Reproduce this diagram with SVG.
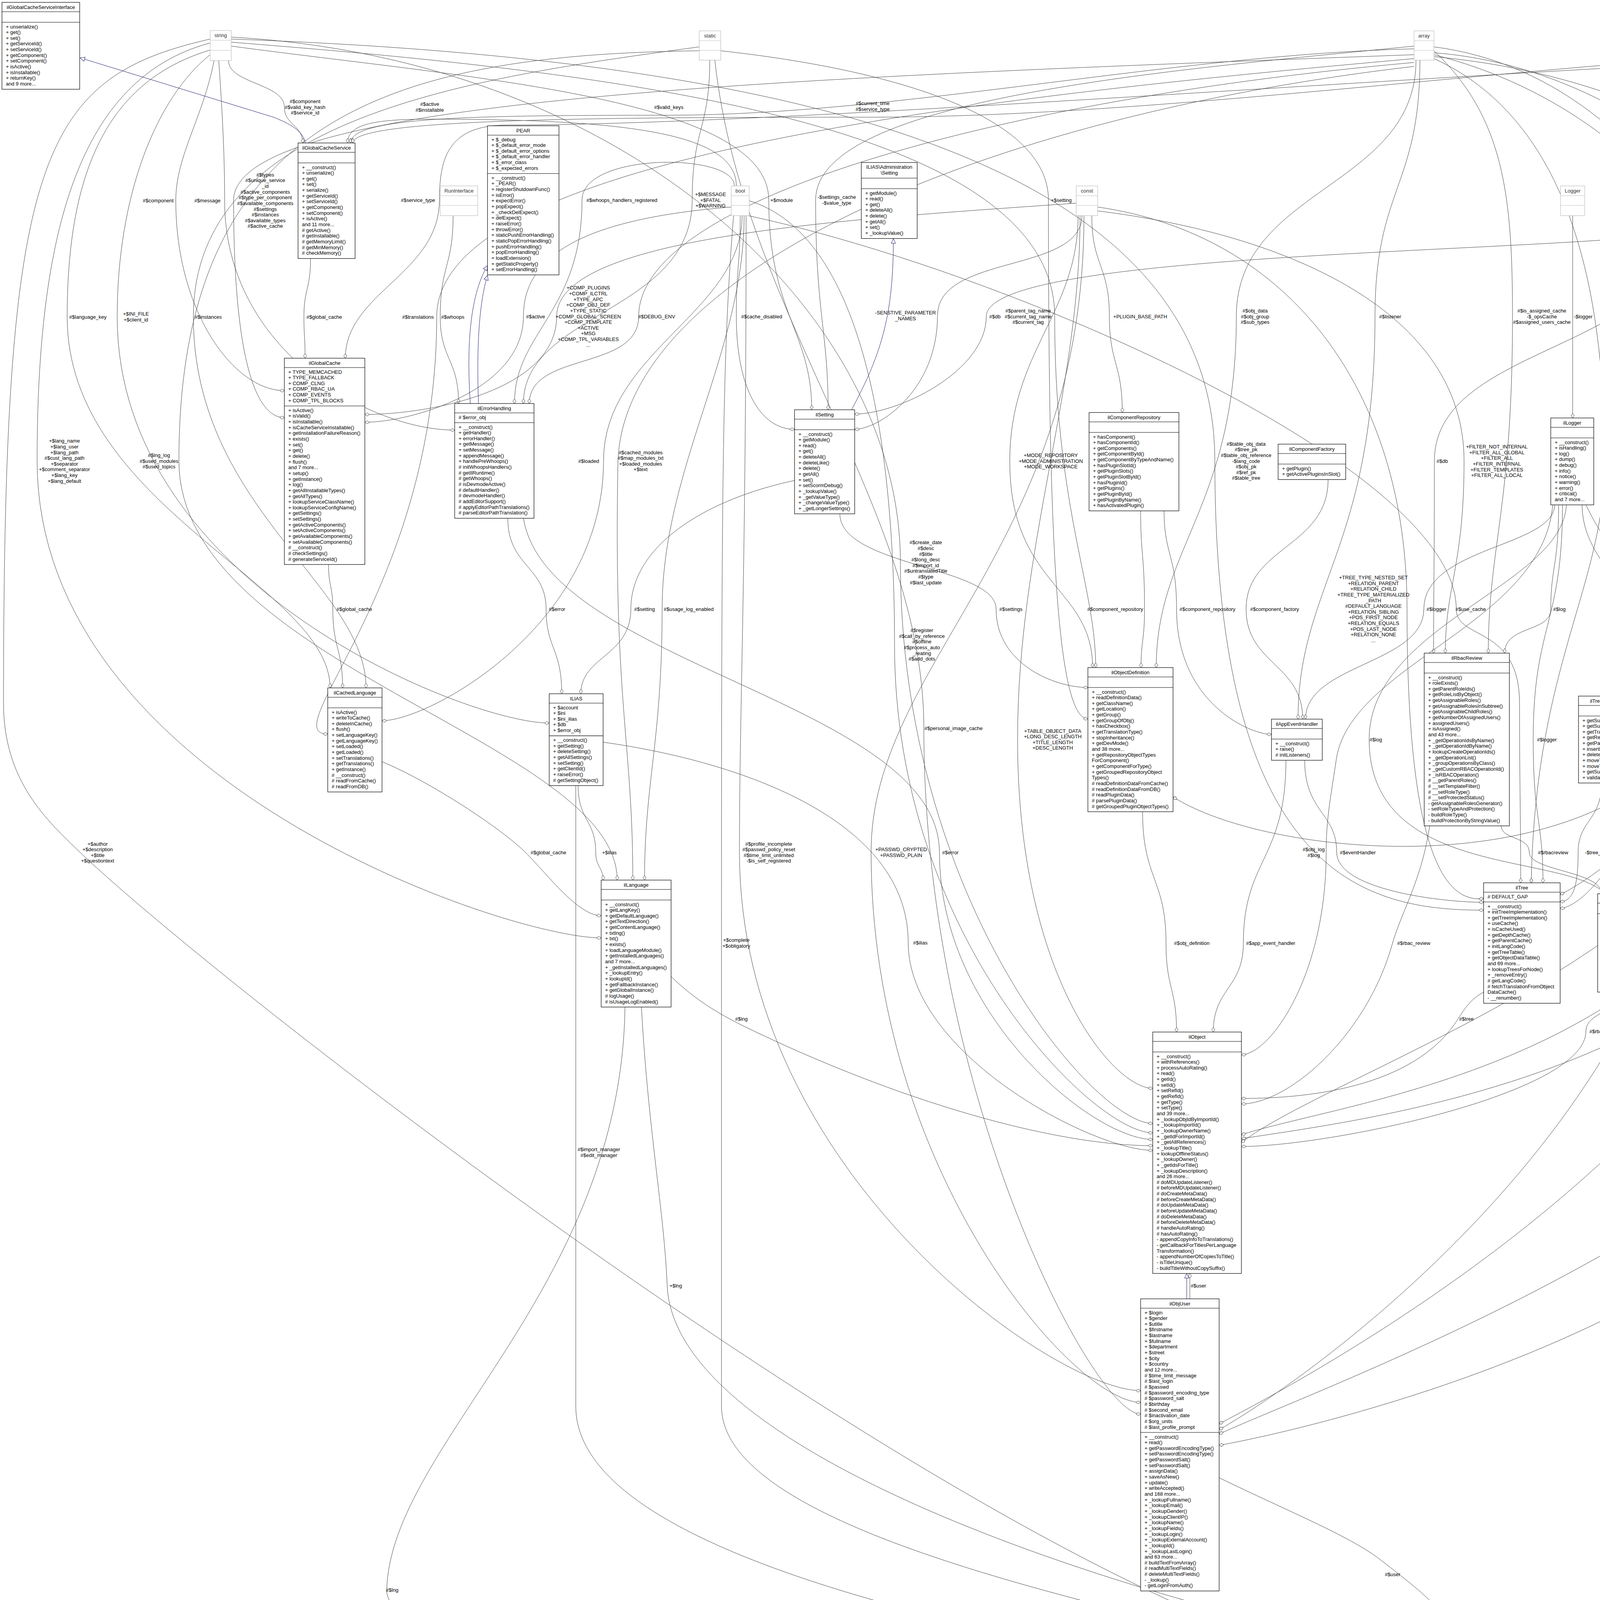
<svg xmlns="http://www.w3.org/2000/svg" width="5563" height="5119" viewBox="0 0 5563 5119">
<defs>
<style>
text{font-family:"Liberation Sans",Arial,Helvetica,sans-serif;font-size:13px;fill:#000}
.c{text-anchor:middle}
.n rect{fill:#fff;stroke:#000;stroke-width:1.2}
.n line{stroke:#000;stroke-width:1.2}
.tn rect{fill:#fff;stroke:#bfbfbf;stroke-width:1.2}
.tn line{stroke:#bfbfbf;stroke-width:1.2}
.tn text{fill:#333}
.hl rect{fill:#bfbfbf}
#connectors path{fill:none;stroke:#404040;stroke-width:1;marker-end:url(#dia)}
#connectors path.inh{stroke:#191970;marker-end:url(#tri)}
#edge-labels text{text-anchor:middle}
</style>
<marker id="dia" viewBox="-1 -5 14 10" refX="12" refY="0" markerWidth="14" markerHeight="10" markerUnits="userSpaceOnUse" orient="auto" overflow="visible">
<path d="M0,0 L6,-4 L12,0 L6,4 Z" fill="#fff" stroke="#404040" stroke-width="1"/>
</marker>
<marker id="tri" viewBox="-1 -6 14 12" refX="12" refY="0" markerWidth="14" markerHeight="12" markerUnits="userSpaceOnUse" orient="auto" overflow="visible">
<path d="M0,-5.5 L12,0 L0,5.5 Z" fill="#fff" stroke="#191970" stroke-width="1"/>
</marker>
</defs>
<rect width="5563" height="5119" fill="#fff"/>

<g id="connectors">
<path d="M585,155 C585,214 728,214 728,274 C728,320 775,320 775,366"/>
<path d="M1885,476 C1885,340 1600,305 1100,305 C950,305 890,320 890,366"/>
<path d="M3620,125 C3000,140 2300,295 1712,295 C1200,295 900,300 897,366"/>
<path d="M4766,125 C4000,150 3000,300 2234,300 C1500,300 905,305 903,366"/>
<path d="M3620,140 C2000,200 598,250 598,513 C598,900 650,1069 728,1069"/>
<path d="M548,155 C520,300 450,400 450,513 C450,800 600,1000 728,1000"/>
<path d="M560,155 C570,300 575,400 575,513 C575,900 950,1101 1164,1101"/>
<path d="M4766,140 C3500,200 2000,320 1300,320 C1150,320 1125,400 1125,512 C1125,700 884,750 884,917"/>
<path d="M1880,476 C1880,390 1490,390 1490,512 C1490,800 1317,850 1317,1033"/>
<path d="M1817,154 C1817,330 1772,330 1772,512 C1772,800 1340,800 1340,1033"/>
<path d="M592,118 C1200,200 1968,250 1968,512 C1968,800 2078,850 2078,1049"/>
<path d="M3620,118 C3000,180 2088,250 2088,512 C2088,800 2120,850 2120,1049"/>
<path d="M1895,552 C1895,680 1885,680 1885,810 C1885,1000 1950,1099 2034,1099"/>
<path d="M2770,552 C2770,700 2400,650 2400,808 C2400,1000 2250,1099 2188,1099"/>
<path d="M4282,600 C3800,650 2525,650 2525,810 C2525,950 2300,1060 2188,1060"/>
<path d="M538,128 C300,200 172,400 172,811 C172,1300 845,1500 845,1761"/>
<path d="M538,140 C400,250 300,500 300,811 C300,1500 1200,1851 1406,1851"/>
<path d="M1790,120 C1200,200 495,300 495,811 C495,1300 937,1500 937,1761"/>
<path d="M795,662 C795,740 778,740 778,811 C778,860 781,860 781,917"/>
<path d="M3620,150 C2500,250 1118,400 1118,811 C1118,1500 700,1879 839,1879"/>
<path d="M1160,552 C1160,680 1127,680 1127,811 C1127,920 1174,920 1174,1033"/>
<path d="M1872,530 C1500,560 1340,650 1340,810 C1340,1000 1050,1081 934,1081"/>
<path d="M2755,520 C2200,560 1425,600 1425,810 C1425,1000 1100,1061 934,1061"/>
<path d="M3620,160 C2600,250 1635,500 1635,810 C1635,950 1355,900 1355,1033"/>
<path d="M592,108 C1500,180 2700,300 2700,810 C2700,1300 2805,1500 2805,1709"/>
<path d="M2795,552 C2795,680 2840,680 2840,810 C2840,930 2873,930 2873,1056"/>
<path d="M3625,154 C3625,480 3165,480 3165,810 C3165,1300 2960,1400 2960,1709"/>
<path d="M2760,552 C2760,800 2585,900 2585,1180 C2585,1500 2797,1500 2797,1709"/>
<path d="M1845,130 C2300,180 2684,300 2684,512 C2684,1300 2700,1840 2785,1840"/>
<path d="M592,100 C2000,150 3110,400 3110,1180 C3110,2250 3500,2330 3798,2330"/>
<path d="M3635,154 C3635,480 3520,480 3520,810 C3520,1400 3323,1500 3323,1841"/>
<path d="M3671,130 C3850,300 3872,500 3872,810 C3872,1300 3810,1400 3810,1672"/>
<path d="M4026,552 L4026,1070"/>
<path d="M1900,552 C1900,800 1545,900 1545,1180 C1545,1600 1100,1845 978,1845"/>
<path d="M3620,170 C2500,300 1600,700 1582,1180 C1570,1800 1620,1900 1620,2253"/>
<path d="M4290,640 C4200,900 3672,900 3672,1180 C3672,1450 3670,1500 3670,1672"/>
<path d="M2810,540 C3300,600 3748,800 3748,1180 C3748,1450 3700,1500 3700,1672"/>
<path d="M3671,150 C4000,300 4108,700 4108,1180 C4108,1500 3930,1700 3920,2260"/>
<path d="M4330,640 C4330,900 4320,900 4320,1180 C4320,2100 4060,2325 3994,2325"/>
<path d="M4780,154 C4780,700 4598,800 4598,1180 C4598,1900 4100,2240 3994,2290"/>
<path d="M841,1445 C841,1500 852,1500 852,1559 C852,1660 877,1660 877,1761"/>
<path d="M1300,1327 C1300,1450 1398,1450 1398,1559 C1398,1660 1438,1660 1438,1776"/>
<path d="M2034,1230 C1800,1280 1615,1400 1615,1559 C1615,1680 1487,1680 1487,1776"/>
<path d="M1905,552 C1905,900 1695,1200 1695,1559 C1695,1900 1650,2000 1650,2253"/>
<path d="M2150,1315 C2150,1450 2550,1450 2550,1559 C2550,1700 2700,1760 2785,1760"/>
<path d="M2920,1308 C2920,1420 2930,1420 2930,1559 C2930,1640 2921,1640 2921,1709"/>
<path d="M2980,1308 C2980,1420 3012,1420 3012,1559 C3012,1800 3200,1880 3255,1880"/>
<path d="M3400,1228 C3400,1400 3190,1400 3190,1559 C3190,1700 3335,1700 3335,1841"/>
<path d="M2810,530 C3300,600 3602,1000 3602,1559 C3602,2000 3650,2320 3798,2300"/>
<path d="M3980,1292 C3980,1400 3645,1400 3645,1559 C3645,1700 3342,1700 3342,1841"/>
<path d="M1915,552 C2600,700 3728,1200 3728,1559 C3728,1640 3890,1600 3890,1800 C3890,2000 3893,2100 3893,2260"/>
<path d="M3990,1292 C3990,1450 3970,1450 3970,1559 C3970,1620 3852,1600 3852,1672"/>
<path d="M4380,640 C4380,1100 4372,1200 4372,1558 C4372,2000 4230,2100 4230,2288"/>
<path d="M4410,640 C4420,1000 4428,1200 4428,1558 C4428,2300 3300,2230 3003,2040"/>
<path d="M3671,140 C4300,300 4652,900 4652,1558 C4652,2700 3500,2800 3178,2905"/>
<path d="M4780,154 C4780,800 4878,1000 4878,1558 C4878,2700 3600,2850 3178,2915"/>
<path d="M2765,552 C2765,1000 2605,1400 2605,1893 C2605,2500 2850,2786 2951,2786"/>
<path d="M4010,1292 C4000,1500 3505,1600 3505,1893 C3505,2250 4000,2180 4110,2288"/>
<path d="M4000,1292 C4000,1600 3925,1600 3925,1893 C3925,2100 3950,2100 3950,2260"/>
<path d="M978,1950 C1100,2000 1285,2122 1345,2182 C1405,2242 1480,2344 1539,2344"/>
<path d="M1480,2011 C1480,2100 1525,2100 1525,2182 C1525,2220 1544,2220 1544,2253"/>
<path d="M3975,1292 C3950,1600 3450,1700 3420,1950 C3405,2050 3395,2100 3395,2182 C3395,2500 3250,2700 3178,2700"/>
<path d="M3340,1946 C3340,2080 3422,2080 3422,2182 C3422,2280 3700,2310 3798,2310"/>
<path d="M3843,2114 C3843,2150 3915,2140 3915,2182 C3915,2230 4100,2230 4100,2288"/>
<path d="M4100,2005 C4100,2100 4040,2100 4040,2182 C4040,2260 4030,2308 3994,2308"/>
<path d="M1910,552 C1910,1500 1893,1800 1893,2182 C1893,3000 2700,3560 2920,3560"/>
<path d="M2775,552 C2775,1400 2230,1700 2230,2182 C2230,3000 2750,3590 2920,3590"/>
<path d="M1340,1327 C1400,1700 2405,1800 2405,2182 C2405,2600 2800,2917 2951,2917"/>
<path d="M538,110 C200,200 95,600 95,1180 C95,2000 1300,2401 1539,2401"/>
<path d="M1790,130 C1000,140 458,300 458,1180 C458,1700 1580,1900 1580,2253"/>
<path d="M538,100 C100,200 9,400 9,1800 C9,2000 120,2100 205,2182 C600,2560 2900,4350 3722,4300"/>
<path d="M3671,120 C4300,200 4690,1000 4690,1893 C4690,2800 3400,3500 3121,3645"/>
<path d="M4805,120 C5100,300 5190,1000 5190,1893 C5190,2900 3500,3500 3121,3671"/>
<path d="M3671,135 C4500,200 5118,1200 5118,2182 C5118,3500 4100,4200 3879,4315"/>
<path d="M4800,154 C4900,600 5230,1200 5230,2182 C5230,3600 4100,4250 3879,4325"/>
<path d="M4050,1292 C4050,1500 4355,1600 4355,1891 C4355,2800 3400,3500 3121,3660"/>
<path d="M4060,1292 C4200,1600 4798,2000 4798,2608 C4798,3800 4000,4250 3879,4320"/>
<path d="M4420,640 C4430,1200 4478,1500 4478,1891 C4478,2400 3400,2750 3178,2925"/>
<path d="M4460,640 C4600,1200 4915,1800 4915,2414 C4915,3300 3400,3650 3121,3700"/>
<path d="M3671,145 C4800,250 5333,1200 5333,2414 C5333,3800 5019,4200 5019,4587"/>
<path d="M4805,130 C5300,300 5468,1200 5468,2414 C5468,4000 5350,4500 5124,4690"/>
<path d="M4500,640 C4700,1200 4998,2000 4998,2608 C4998,3900 4100,4280 3879,4330"/>
<path d="M3798,2540 C3760,2560 3745,2590 3725,2620 C3600,2800 3300,2812 3178,2812"/>
<path d="M2925,2078 C2925,2250 2985,2250 2985,2414 C2985,2530 3012,2530 3012,2642"/>
<path d="M3292,1946 C3292,2200 3183,2200 3183,2414 C3183,2530 3106,2530 3106,2642"/>
<path d="M3660,2114 C3640,2250 3590,2330 3565,2414 C3500,2650 3300,2826 3178,2826"/>
<path d="M4150,2540 C4150,2590 4060,2590 4060,2640 C4060,2800 3400,2935 3178,2935"/>
<path d="M1718,2500 C1780,2560 1840,2595 1900,2625 C2300,2820 2700,2933 2951,2933"/>
<path d="M1878,552 C1850,900 1847,1200 1847,2414 L1847,3600 C1847,4000 3400,4200 3722,4350"/>
<path d="M1544,1900 C1900,1950 2325,2100 2325,2413 C2325,2700 2800,2945 2951,2945"/>
<path d="M1474,2011 L1474,3600 C1474,4100 3300,4300 3722,4400"/>
<path d="M1642,2578 C1660,2900 1700,3100 1708,3291 C1730,3800 3300,4200 3722,4250"/>
<path d="M1600,2578 C1590,3300 1000,3700 990,4070 C985,4400 4200,4650 4909,4755"/>
<path d="M3879,4359 L4909,4717"/>
<path d="M3046,3325 L3046,3260"/>
<path d="M3121,3783 C3300,3870 3450,3930 3530,3990 C3620,4060 3700,4120 3722,4180"/>
<path d="M1830,154 C1900,800 2365,1300 2365,1864 C2365,2800 2800,3620 2920,3620"/>
<path d="M592,95 C1600,150 2305,800 2305,1440 C2305,2300 2800,2876 2951,2876"/>
<path d="M1918,514 C2200,600 2290,1100 2290,1650 C2290,2400 2800,2900 2951,2900"/>
<path class="inh" d="M782,366 C775,335 745,318 700,300 L205,148"/>
<path class="inh" d="M1204,1033 C1195,900 1200,760 1248,680"/>
<path class="inh" d="M1225,1033 C1220,900 1225,780 1248,705"/>
<path class="inh" d="M2180,1049 C2260,900 2287,800 2287,611"/>
<path class="inh" d="M3038,3325 L3038,3260"/>
<path class="inh" d="M5016,4978 L5016,4927"/>
</g>

<g id="edge-labels">
<text x="781" y="263.85"><tspan x="781" dy="0">#$component</tspan><tspan x="781" dy="14.65">#$valid_key_hash</tspan><tspan x="781" dy="14.65">#$service_id</tspan></text>
<text x="1100" y="271.2"><tspan x="1100" dy="0">#$active</tspan><tspan x="1100" dy="14.65">#$installable</tspan></text>
<text x="1712" y="278.5">#$valid_keys</text>
<text x="2234" y="269.2"><tspan x="2234" dy="0">#$current_time</tspan><tspan x="2234" dy="14.65">#$service_type</tspan></text>
<text x="679" y="451.6"><tspan x="679" dy="0">#$types</tspan><tspan x="679" dy="14.65">#$unique_service</tspan><tspan x="679" dy="14.65">_id</tspan><tspan x="679" dy="14.65">#$active_components</tspan><tspan x="679" dy="14.65">#$type_per_component</tspan><tspan x="679" dy="14.65">#$available_components</tspan><tspan x="679" dy="14.65">#$settings</tspan><tspan x="679" dy="14.65">#$instances</tspan><tspan x="679" dy="14.65">#$available_types</tspan><tspan x="679" dy="14.65">#$active_cache</tspan></text>
<text x="405" y="517.5">#$component</text>
<text x="531" y="517.5">#$message</text>
<text x="1070" y="516.5">#$service_type</text>
<text x="1592" y="516.5">#$whoops_handlers_registered</text>
<text x="1819" y="501.85"><tspan x="1819" dy="0">+$MESSAGE</tspan><tspan x="1819" dy="14.65">+$FATAL</tspan><tspan x="1819" dy="14.65">+$WARNING</tspan></text>
<text x="2001" y="516.5">+$module</text>
<text x="2142" y="509.2"><tspan x="2142" dy="0">-$settings_cache</tspan><tspan x="2142" dy="14.65">-$value_type</tspan></text>
<text x="2717" y="516.5">+$setting</text>
<text x="225" y="815.5">#$language_key</text>
<text x="348" y="808.2"><tspan x="348" dy="0">+$INI_FILE</tspan><tspan x="348" dy="14.65">+$client_id</tspan></text>
<text x="533" y="815.5">#$instances</text>
<text x="830" y="815.5">#$global_cache</text>
<text x="1070" y="815.5">#$translations</text>
<text x="1159" y="815.5">#$whoops</text>
<text x="1371" y="814.5">#$active</text>
<text x="1506" y="741.25"><tspan x="1506" dy="0">+COMP_PLUGINS</tspan><tspan x="1506" dy="14.65">+COMP_ILCTRL</tspan><tspan x="1506" dy="14.65">+TYPE_APC</tspan><tspan x="1506" dy="14.65">+COMP_OBJ_DEF</tspan><tspan x="1506" dy="14.65">+TYPE_STATIC</tspan><tspan x="1506" dy="14.65">+COMP_GLOBAL_SCREEN</tspan><tspan x="1506" dy="14.65">+COMP_TEMPLATE</tspan><tspan x="1506" dy="14.65">+ACTIVE</tspan><tspan x="1506" dy="14.65">+MSG</tspan><tspan x="1506" dy="14.65">+COMP_TPL_VARIABLES</tspan><tspan x="1506" dy="14.65">...</tspan></text>
<text x="1681" y="814.5">#$DEBUG_ENV</text>
<text x="1950" y="814.5">#$cache_disabled</text>
<text x="2318" y="805.2"><tspan x="2318" dy="0">-SENSTIVE_PARAMETER</tspan><tspan x="2318" dy="14.65">_NAMES</tspan></text>
<text x="2547" y="814.5">#$db</text>
<text x="2632" y="799.85"><tspan x="2632" dy="0">#$parent_tag_name</tspan><tspan x="2632" dy="14.65">#$current_tag_name</tspan><tspan x="2632" dy="14.65">#$current_tag</tspan></text>
<text x="2919" y="814.5">+PLUGIN_BASE_PATH</text>
<text x="3213" y="799.85"><tspan x="3213" dy="0">#$obj_data</tspan><tspan x="3213" dy="14.65">#$obj_group</tspan><tspan x="3213" dy="14.65">#$sub_types</tspan></text>
<text x="3559" y="814.5">#$listener</text>
<text x="3947" y="799.85"><tspan x="3947" dy="0">#$is_assigned_cache</tspan><tspan x="3947" dy="14.65">-$_opsCache</tspan><tspan x="3947" dy="14.65">#$assigned_users_cache</tspan></text>
<text x="4053" y="814.5">-$logger</text>
<text x="1507" y="1184.5">#$loaded</text>
<text x="1640" y="1162.5"><tspan x="1640" dy="0">#$cached_modules</tspan><tspan x="1640" dy="14.65">#$map_modules_txt</tspan><tspan x="1640" dy="14.65">+$loaded_modules</tspan><tspan x="1640" dy="14.65">+$text</tspan></text>
<text x="2690" y="1169.85"><tspan x="2690" dy="0">+MODE_REPOSITORY</tspan><tspan x="2690" dy="14.65">+MODE_ADMINISTRATION</tspan><tspan x="2690" dy="14.65">+MODE_WORKSPACE</tspan></text>
<text x="3190" y="1140.55"><tspan x="3190" dy="0">#$table_obj_data</tspan><tspan x="3190" dy="14.65">#$tree_pk</tspan><tspan x="3190" dy="14.65">#$table_obj_reference</tspan><tspan x="3190" dy="14.65">-$lang_code</tspan><tspan x="3190" dy="14.65">#$obj_pk</tspan><tspan x="3190" dy="14.65">#$ref_pk</tspan><tspan x="3190" dy="14.65">#$table_tree</tspan></text>
<text x="3692" y="1184.5">#$db</text>
<text x="3832" y="1147.9"><tspan x="3832" dy="0">+FILTER_NOT_INTERNAL</tspan><tspan x="3832" dy="14.65">+FILTER_ALL_GLOBAL</tspan><tspan x="3832" dy="14.65">+FILTER_ALL</tspan><tspan x="3832" dy="14.65">+FILTER_INTERNAL</tspan><tspan x="3832" dy="14.65">+FILTER_TEMPLATES</tspan><tspan x="3832" dy="14.65">+FILTER_ALL_LOCAL</tspan></text>
<text x="4174" y="1133.2"><tspan x="4174" dy="0">#$oc_preloaded</tspan><tspan x="4174" dy="14.65">#$translation_cache</tspan><tspan x="4174" dy="14.65">#$is_saved_cache</tspan><tspan x="4174" dy="14.65">#$in_tree_cache</tspan><tspan x="4174" dy="14.65">-$path_id_cache</tspan><tspan x="4174" dy="14.65">#$parent_cache</tspan><tspan x="4174" dy="14.65">#$parent_type_cache</tspan><tspan x="4174" dy="14.65">#$depth_cache</tspan></text>
<text x="4340" y="1184.5">#$db</text>
<text x="4634" y="1169.85"><tspan x="4634" dy="0">#$tree_id</tspan><tspan x="4634" dy="14.65">-$gap</tspan><tspan x="4634" dy="14.65">#$root_id</tspan></text>
<text x="907" y="1563.5">#$global_cache</text>
<text x="1426" y="1563.5">#$error</text>
<text x="1650" y="1563.5">#$setting</text>
<text x="1763" y="1563.5">#$usage_log_enabled</text>
<text x="2588" y="1563.5">#$settings</text>
<text x="2855" y="1563.5">#$component_repository</text>
<text x="3091" y="1563.5">#$component_repository</text>
<text x="3263" y="1563.5">#$component_factory</text>
<text x="3516" y="1482.9"><tspan x="3516" dy="0">+TREE_TYPE_NESTED_SET</tspan><tspan x="3516" dy="14.65">+RELATION_PARENT</tspan><tspan x="3516" dy="14.65">+RELATION_CHILD</tspan><tspan x="3516" dy="14.65">+TREE_TYPE_MATERIALIZED</tspan><tspan x="3516" dy="14.65">_PATH</tspan><tspan x="3516" dy="14.65">#DEFAULT_LANGUAGE</tspan><tspan x="3516" dy="14.65">+RELATION_SIBLING</tspan><tspan x="3516" dy="14.65">+POS_FIRST_NODE</tspan><tspan x="3516" dy="14.65">+RELATION_EQUALS</tspan><tspan x="3516" dy="14.65">+POS_LAST_NODE</tspan><tspan x="3516" dy="14.65">+RELATION_NONE</tspan><tspan x="3516" dy="14.65">...</tspan></text>
<text x="3677" y="1563.5">#$logger</text>
<text x="3765" y="1563.5">#$use_cache</text>
<text x="3992" y="1563.5">#$log</text>
<text x="4392" y="1562.5">#$db</text>
<text x="4437" y="1562.5">#$db</text>
<text x="4699" y="1562.5">+$objectList</text>
<text x="4924" y="1533.2"><tspan x="4924" dy="0">#$ref_id</tspan><tspan x="4924" dy="14.65">#$max_desc</tspan><tspan x="4924" dy="14.65">#$max_title</tspan><tspan x="4924" dy="14.65">#$owner</tspan><tspan x="4924" dy="14.65">#$id</tspan></text>
<text x="2370" y="1393.2"><tspan x="2370" dy="0">#$create_date</tspan><tspan x="2370" dy="14.65">#$desc</tspan><tspan x="2370" dy="14.65">#$title</tspan><tspan x="2370" dy="14.65">#$long_desc</tspan><tspan x="2370" dy="14.65">#$import_id</tspan><tspan x="2370" dy="14.65">#$untranslatedTitle</tspan><tspan x="2370" dy="14.65">#$type</tspan><tspan x="2370" dy="14.65">#$last_update</tspan></text>
<text x="2360" y="1617.9"><tspan x="2360" dy="0">#$register</tspan><tspan x="2360" dy="14.65">#$call_by_reference</tspan><tspan x="2360" dy="14.65">#$offline</tspan><tspan x="2360" dy="14.65">#$process_auto</tspan><tspan x="2360" dy="14.65">_reating</tspan><tspan x="2360" dy="14.65">#$add_dots</tspan></text>
<text x="2441" y="1868.5">#$personal_image_cache</text>
<text x="2695" y="1875.5"><tspan x="2695" dy="0">+TABLE_OBJECT_DATA</tspan><tspan x="2695" dy="14.65">+LONG_DESC_LENGTH</tspan><tspan x="2695" dy="14.65">+TITLE_LENGTH</tspan><tspan x="2695" dy="14.65">+DESC_LENGTH</tspan></text>
<text x="3522" y="1897.5">#$log</text>
<text x="3960" y="1897.5">#$logger</text>
<text x="1404" y="2186.5">#$global_cache</text>
<text x="1560" y="2186.5">+$ilias</text>
<text x="3363" y="2179.2"><tspan x="3363" dy="0">#$obj_log</tspan><tspan x="3363" dy="14.65">#$log</tspan></text>
<text x="3476" y="2186.5">#$eventHandler</text>
<text x="3976" y="2186.5">#$rbacreview</text>
<text x="4090" y="2186.5">-$tree_impl</text>
<text x="1968" y="2164.5"><tspan x="1968" dy="0">#$profile_incomplete</tspan><tspan x="1968" dy="14.65">#$passwd_policy_reset</tspan><tspan x="1968" dy="14.65">#$time_limit_unlimited</tspan><tspan x="1968" dy="14.65">-$is_self_registered</tspan></text>
<text x="2307" y="2179.2"><tspan x="2307" dy="0">+PASSWD_CRYPTED</tspan><tspan x="2307" dy="14.65">+PASSWD_PLAIN</tspan></text>
<text x="2433" y="2186.5">#$error</text>
<text x="165" y="1133.2"><tspan x="165" dy="0">+$lang_name</tspan><tspan x="165" dy="14.65">+$lang_user</tspan><tspan x="165" dy="14.65">+$lang_path</tspan><tspan x="165" dy="14.65">#$cust_lang_path</tspan><tspan x="165" dy="14.65">+$separator</tspan><tspan x="165" dy="14.65">+$comment_separator</tspan><tspan x="165" dy="14.65">+$lang_key</tspan><tspan x="165" dy="14.65">+$lang_default</tspan></text>
<text x="407" y="1169.85"><tspan x="407" dy="0">#$lng_log</tspan><tspan x="407" dy="14.65">#$used_modules</tspan><tspan x="407" dy="14.65">#$used_topics</tspan></text>
<text x="250" y="2164.5"><tspan x="250" dy="0">+$author</tspan><tspan x="250" dy="14.65">+$description</tspan><tspan x="250" dy="14.65">+$title</tspan><tspan x="250" dy="14.65">+$questiontext</tspan></text>
<text x="4767" y="1846.2"><tspan x="4767" dy="0">+$prefs</tspan><tspan x="4767" dy="14.65">+$user_defined_data</tspan><tspan x="4767" dy="14.65">#$interests_help</tspan><tspan x="4767" dy="14.65">_offered</tspan><tspan x="4767" dy="14.65">#$interests_general</tspan><tspan x="4767" dy="14.65">#$oldPrefs</tspan><tspan x="4767" dy="14.65">#$interests_help</tspan><tspan x="4767" dy="14.65">_looking</tspan></text>
<text x="5105" y="1860.9"><tspan x="5105" dy="0">#$time_limit_owner</tspan><tspan x="5105" dy="14.65">+$active</tspan><tspan x="5105" dy="14.65">#$time_limit_from</tspan><tspan x="5105" dy="14.65">#$time_limit_until</tspan><tspan x="5105" dy="14.65">+$login_attempts</tspan><tspan x="5105" dy="14.65">+$last_password_change_ts</tspan></text>
<text x="5166" y="2164.5"><tspan x="5166" dy="0">+$material</tspan><tspan x="5166" dy="14.65">-$arrData</tspan><tspan x="5166" dy="14.65">+$materials</tspan><tspan x="5166" dy="14.65">#$cumulated</tspan></text>
<text x="5275" y="2149.9"><tspan x="5275" dy="0">+$orientation</tspan><tspan x="5275" dy="14.65">#$original_id</tspan><tspan x="5275" dy="14.65">+$owner</tspan><tspan x="5275" dy="14.65">+$id</tspan><tspan x="5275" dy="14.65">+$survey_id</tspan><tspan x="5275" dy="14.65">+$obj_id</tspan></text>
<text x="4323" y="1895.5">#$logger</text>
<text x="4817" y="2612.5">#$log</text>
<text x="4497" y="1895.5">#$db</text>
<text x="4932" y="2418.5">#$db</text>
<text x="5378" y="2418.5">#$finished_ids</text>
<text x="5474" y="2411.2" style="text-anchor:start"><tspan x="5474" dy="0">#$chart_height</tspan><tspan x="5474" dy="14.65">#$chart_width</tspan></text>
<text x="5013" y="2612.5">#$db</text>
<text x="3754" y="2612.5">#$tree</text>
<text x="3051" y="2418.5">#$obj_definition</text>
<text x="3253" y="2418.5">#$app_event_handler</text>
<text x="3619" y="2418.5">#$rbac_review</text>
<text x="4110" y="2644.5">#$rbac_admin</text>
<text x="1898" y="2612.5">#$lng</text>
<text x="1885" y="2411.2"><tspan x="1885" dy="0">+$complete</tspan><tspan x="1885" dy="14.65">+$obligatory</tspan></text>
<text x="2356" y="2417.5">#$ilias</text>
<text x="1533" y="2947.2"><tspan x="1533" dy="0">#$import_manager</tspan><tspan x="1533" dy="14.65">#$edit_manager</tspan></text>
<text x="1730" y="3295.5">+$lng</text>
<text x="1004" y="4074.5">#$lng</text>
<text x="4479" y="4558.5">#$question</text>
<text x="3068" y="3295.5">#$user</text>
<text x="3565" y="4034.5">#$user</text>
</g>

<g id="node-string" class="tn"><rect x="538" y="78" width="54" height="77"/><line x1="538" y1="103" x2="592" y2="103"/><line x1="538" y1="129" x2="592" y2="129"/><text class="c" x="565" y="95">string</text></g>
<g id="node-static" class="tn"><rect x="1790" y="79" width="55" height="75"/><line x1="1790" y1="104" x2="1845" y2="104"/><line x1="1790" y1="129" x2="1845" y2="129"/><text class="c" x="1817.5" y="96">static</text></g>
<g id="node-array" class="tn"><rect x="3620" y="79" width="51" height="75"/><line x1="3620" y1="104" x2="3671" y2="104"/><line x1="3620" y1="129" x2="3671" y2="129"/><text class="c" x="3645.5" y="96">array</text></g>
<g id="node-int" class="tn"><rect x="4766" y="79" width="39" height="75"/><line x1="4766" y1="104" x2="4805" y2="104"/><line x1="4766" y1="129" x2="4805" y2="129"/><text class="c" x="4785.5" y="96">int</text></g>
<g id="node-bool" class="tn"><rect x="1872" y="476" width="46" height="76"/><line x1="1872" y1="501" x2="1918" y2="501"/><line x1="1872" y1="526" x2="1918" y2="526"/><text class="c" x="1895" y="493">bool</text></g>
<g id="node-const" class="tn"><rect x="2755" y="476" width="55" height="76"/><line x1="2755" y1="501" x2="2810" y2="501"/><line x1="2755" y1="526" x2="2810" y2="526"/><text class="c" x="2782.5" y="493">const</text></g>
<g id="node-Logger" class="tn"><rect x="3995" y="476" width="62" height="76"/><line x1="3995" y1="501" x2="4057" y2="501"/><line x1="3995" y1="526" x2="4057" y2="526"/><text class="c" x="4026" y="493">Logger</text></g>
<g id="node-RunInterface" class="tn"><rect x="1127" y="476" width="96" height="76"/><line x1="1127" y1="501" x2="1223" y2="501"/><line x1="1127" y1="526" x2="1223" y2="526"/><text class="c" x="1175" y="493">RunInterface</text></g>

<g id="node-ilGlobalCacheServiceInterface" class="n"><rect x="5" y="6" width="199" height="222.5"/><line x1="5" y1="30" x2="204" y2="30"/><line x1="5" y1="57" x2="204" y2="57"/><text class="c" x="104.5" y="23">ilGlobalCacheServiceInterface</text>
<text x="15" y="72.5"><tspan x="15" dy="0">+ unserialize()</tspan><tspan x="15" dy="14.65">+ get()</tspan><tspan x="15" dy="14.65">+ set()</tspan><tspan x="15" dy="14.65">+ getServiceId()</tspan><tspan x="15" dy="14.65">+ setServiceId()</tspan><tspan x="15" dy="14.65">+ getComponent()</tspan><tspan x="15" dy="14.65">+ setComponent()</tspan><tspan x="15" dy="14.65">+ isActive()</tspan><tspan x="15" dy="14.65">+ isInstallable()</tspan><tspan x="15" dy="14.65">+ returnKey()</tspan><tspan x="15" dy="14.65">and 9 more...</tspan></text></g>

<g id="node-ilGlobalCacheService" class="n"><rect x="763" y="366" width="146" height="295.75"/><line x1="763" y1="390" x2="909" y2="390"/><line x1="763" y1="417" x2="909" y2="417"/><text class="c" x="836" y="383">ilGlobalCacheService</text>
<text x="773" y="432.5"><tspan x="773" dy="0">+ __construct()</tspan><tspan x="773" dy="14.65">+ unserialize()</tspan><tspan x="773" dy="14.65">+ get()</tspan><tspan x="773" dy="14.65">+ set()</tspan><tspan x="773" dy="14.65">+ serialize()</tspan><tspan x="773" dy="14.65">+ getServiceId()</tspan><tspan x="773" dy="14.65">+ setServiceId()</tspan><tspan x="773" dy="14.65">+ getComponent()</tspan><tspan x="773" dy="14.65">+ setComponent()</tspan><tspan x="773" dy="14.65">+ isActive()</tspan><tspan x="773" dy="14.65">and 11 more...</tspan><tspan x="773" dy="14.65"># getActive()</tspan><tspan x="773" dy="14.65"># getInstallable()</tspan><tspan x="773" dy="14.65"># getMemoryLimit()</tspan><tspan x="773" dy="14.65"># getMinMemory()</tspan><tspan x="773" dy="14.65"># checkMemory()</tspan></text></g>

<g id="node-PEAR" class="n"><rect x="1248" y="322" width="183" height="381.65"/><line x1="1248" y1="346" x2="1431" y2="346"/><line x1="1248" y1="444.25" x2="1431" y2="444.25"/><text class="c" x="1339.5" y="339">PEAR</text>
<text x="1258" y="361.5"><tspan x="1258" dy="0">+ $_debug</tspan><tspan x="1258" dy="14.65">+ $_default_error_mode</tspan><tspan x="1258" dy="14.65">+ $_default_error_options</tspan><tspan x="1258" dy="14.65">+ $_default_error_handler</tspan><tspan x="1258" dy="14.65">+ $_error_class</tspan><tspan x="1258" dy="14.65">+ $_expected_errors</tspan></text>
<text x="1258" y="459.75"><tspan x="1258" dy="0">+ __construct()</tspan><tspan x="1258" dy="14.65">+ _PEAR()</tspan><tspan x="1258" dy="14.65">+ registerShutdownFunc()</tspan><tspan x="1258" dy="14.65">+ isError()</tspan><tspan x="1258" dy="14.65">+ expectError()</tspan><tspan x="1258" dy="14.65">+ popExpect()</tspan><tspan x="1258" dy="14.65">+ _checkDelExpect()</tspan><tspan x="1258" dy="14.65">+ delExpect()</tspan><tspan x="1258" dy="14.65">+ raiseError()</tspan><tspan x="1258" dy="14.65">+ throwError()</tspan><tspan x="1258" dy="14.65">+ staticPushErrorHandling()</tspan><tspan x="1258" dy="14.65">+ staticPopErrorHandling()</tspan><tspan x="1258" dy="14.65">+ pushErrorHandling()</tspan><tspan x="1258" dy="14.65">+ popErrorHandling()</tspan><tspan x="1258" dy="14.65">+ loadExtension()</tspan><tspan x="1258" dy="14.65">+ getStaticProperty()</tspan><tspan x="1258" dy="14.65">+ setErrorHandling()</tspan></text></g>

<g id="node-ILIAS-Administration-Setting" class="n"><rect x="2205" y="416" width="143" height="194.55"/><line x1="2205" y1="456" x2="2348" y2="456"/><line x1="2205" y1="483" x2="2348" y2="483"/><text class="c" x="2276.5" y="432"><tspan x="2276.5" dy="0">ILIAS\Administration</tspan><tspan x="2276.5" dy="14.65">\Setting</tspan></text>
<text x="2215" y="498.5"><tspan x="2215" dy="0">+ getModule()</tspan><tspan x="2215" dy="14.65">+ read()</tspan><tspan x="2215" dy="14.65">+ get()</tspan><tspan x="2215" dy="14.65">+ deleteAll()</tspan><tspan x="2215" dy="14.65">+ delete()</tspan><tspan x="2215" dy="14.65">+ getAll()</tspan><tspan x="2215" dy="14.65">+ set()</tspan><tspan x="2215" dy="14.65">+ _lookupValue()</tspan></text></g>

<g id="node-ilErrorHandling" class="n"><rect x="1164" y="1033" width="203" height="293.75"/><line x1="1164" y1="1057" x2="1367" y2="1057"/><line x1="1164" y1="1082" x2="1367" y2="1082"/><text class="c" x="1265.5" y="1050">ilErrorHandling</text>
<text x="1174" y="1072.5"># $error_obj</text>
<text x="1174" y="1097.5"><tspan x="1174" dy="0">+ __construct()</tspan><tspan x="1174" dy="14.65">+ getHandler()</tspan><tspan x="1174" dy="14.65">+ errorHandler()</tspan><tspan x="1174" dy="14.65">+ getMessage()</tspan><tspan x="1174" dy="14.65">+ setMessage()</tspan><tspan x="1174" dy="14.65">+ appendMessage()</tspan><tspan x="1174" dy="14.65">+ handlePreWhoops()</tspan><tspan x="1174" dy="14.65"># initWhoopsHandlers()</tspan><tspan x="1174" dy="14.65"># getIlRuntime()</tspan><tspan x="1174" dy="14.65"># getWhoops()</tspan><tspan x="1174" dy="14.65"># isDevmodeActive()</tspan><tspan x="1174" dy="14.65"># defaultHandler()</tspan><tspan x="1174" dy="14.65"># devmodeHandler()</tspan><tspan x="1174" dy="14.65"># addEditorSupport()</tspan><tspan x="1174" dy="14.65"># applyEditorPathTranslations()</tspan><tspan x="1174" dy="14.65"># parseEditorPathTranslation()</tspan></text></g>

<g id="node-ilSetting" class="n"><rect x="2034" y="1049" width="154" height="266.45"/><line x1="2034" y1="1073" x2="2188" y2="1073"/><line x1="2034" y1="1100" x2="2188" y2="1100"/><text class="c" x="2111" y="1066">ilSetting</text>
<text x="2044" y="1115.5"><tspan x="2044" dy="0">+ __construct()</tspan><tspan x="2044" dy="14.65">+ getModule()</tspan><tspan x="2044" dy="14.65">+ read()</tspan><tspan x="2044" dy="14.65">+ get()</tspan><tspan x="2044" dy="14.65">+ deleteAll()</tspan><tspan x="2044" dy="14.65">+ deleteLike()</tspan><tspan x="2044" dy="14.65">+ delete()</tspan><tspan x="2044" dy="14.65">+ getAll()</tspan><tspan x="2044" dy="14.65">+ set()</tspan><tspan x="2044" dy="14.65">+ setScormDebug()</tspan><tspan x="2044" dy="14.65">+ _lookupValue()</tspan><tspan x="2044" dy="14.65">+ _getValueType()</tspan><tspan x="2044" dy="14.65">+ _changeValueType()</tspan><tspan x="2044" dy="14.65">+ _getLongerSettings()</tspan></text></g>

<g id="node-ilGlobalCache" class="n"><rect x="728" y="917" width="206" height="528.15"/><line x1="728" y1="941" x2="934" y2="941"/><line x1="728" y1="1039.25" x2="934" y2="1039.25"/><text class="c" x="831" y="934">ilGlobalCache</text>
<text x="738" y="956.5"><tspan x="738" dy="0">+ TYPE_MEMCACHED</tspan><tspan x="738" dy="14.65">+ TYPE_FALLBACK</tspan><tspan x="738" dy="14.65">+ COMP_CLNG</tspan><tspan x="738" dy="14.65">+ COMP_RBAC_UA</tspan><tspan x="738" dy="14.65">+ COMP_EVENTS</tspan><tspan x="738" dy="14.65">+ COMP_TPL_BLOCKS</tspan></text>
<text x="738" y="1054.75"><tspan x="738" dy="0">+ isActive()</tspan><tspan x="738" dy="14.65">+ isValid()</tspan><tspan x="738" dy="14.65">+ isInstallable()</tspan><tspan x="738" dy="14.65">+ isCacheServiceInstallable()</tspan><tspan x="738" dy="14.65">+ getInstallationFailureReason()</tspan><tspan x="738" dy="14.65">+ exists()</tspan><tspan x="738" dy="14.65">+ set()</tspan><tspan x="738" dy="14.65">+ get()</tspan><tspan x="738" dy="14.65">+ delete()</tspan><tspan x="738" dy="14.65">+ flush()</tspan><tspan x="738" dy="14.65">and 7 more...</tspan><tspan x="738" dy="14.65">+ setup()</tspan><tspan x="738" dy="14.65">+ getInstance()</tspan><tspan x="738" dy="14.65">+ log()</tspan><tspan x="738" dy="14.65">+ getAllInstallableTypes()</tspan><tspan x="738" dy="14.65">+ getAllTypes()</tspan><tspan x="738" dy="14.65">+ lookupServiceClassName()</tspan><tspan x="738" dy="14.65">+ lookupServiceConfigName()</tspan><tspan x="738" dy="14.65">+ getSettings()</tspan><tspan x="738" dy="14.65">+ setSettings()</tspan><tspan x="738" dy="14.65">+ getActiveComponents()</tspan><tspan x="738" dy="14.65">+ setActiveComponents()</tspan><tspan x="738" dy="14.65">+ getAvailableComponents()</tspan><tspan x="738" dy="14.65">+ setAvailableComponents()</tspan><tspan x="738" dy="14.65"># __construct()</tspan><tspan x="738" dy="14.65"># checkSettings()</tspan><tspan x="738" dy="14.65"># generateServiceId()</tspan></text></g>

<g id="node-ilCachedLanguage" class="n"><rect x="839" y="1761" width="139" height="266.45"/><line x1="839" y1="1785" x2="978" y2="1785"/><line x1="839" y1="1812" x2="978" y2="1812"/><text class="c" x="908.5" y="1778">ilCachedLanguage</text>
<text x="849" y="1827.5"><tspan x="849" dy="0">+ isActive()</tspan><tspan x="849" dy="14.65">+ writeToCache()</tspan><tspan x="849" dy="14.65">+ deleteInCache()</tspan><tspan x="849" dy="14.65">+ flush()</tspan><tspan x="849" dy="14.65">+ setLanguageKey()</tspan><tspan x="849" dy="14.65">+ getLanguageKey()</tspan><tspan x="849" dy="14.65">+ setLoaded()</tspan><tspan x="849" dy="14.65">+ getLoaded()</tspan><tspan x="849" dy="14.65">+ setTranslations()</tspan><tspan x="849" dy="14.65">+ getTranslations()</tspan><tspan x="849" dy="14.65">+ getInstance()</tspan><tspan x="849" dy="14.65"># __construct()</tspan><tspan x="849" dy="14.65"># readFromCache()</tspan><tspan x="849" dy="14.65"># readFromDB()</tspan></text></g>

<g id="node-ILIAS" class="n"><rect x="1406" y="1776" width="138" height="235.15"/><line x1="1406" y1="1800" x2="1544" y2="1800"/><line x1="1406" y1="1883.6" x2="1544" y2="1883.6"/><text class="c" x="1475" y="1793">ILIAS</text>
<text x="1416" y="1815.5"><tspan x="1416" dy="0">+ $account</tspan><tspan x="1416" dy="14.65">+ $ini</tspan><tspan x="1416" dy="14.65">+ $ini_ilias</tspan><tspan x="1416" dy="14.65">+ $db</tspan><tspan x="1416" dy="14.65">+ $error_obj</tspan></text>
<text x="1416" y="1899.1"><tspan x="1416" dy="0">+ __construct()</tspan><tspan x="1416" dy="14.65">+ getSetting()</tspan><tspan x="1416" dy="14.65">+ deleteSetting()</tspan><tspan x="1416" dy="14.65">+ getAllSettings()</tspan><tspan x="1416" dy="14.65">+ setSetting()</tspan><tspan x="1416" dy="14.65">+ getClientId()</tspan><tspan x="1416" dy="14.65">+ raiseError()</tspan><tspan x="1416" dy="14.65"># getSettingObject()</tspan></text></g>

<g id="node-ilLanguage" class="n"><rect x="1539" y="2253" width="179" height="325.05"/><line x1="1539" y1="2277" x2="1718" y2="2277"/><line x1="1539" y1="2304" x2="1718" y2="2304"/><text class="c" x="1628.5" y="2270">ilLanguage</text>
<text x="1549" y="2319.5"><tspan x="1549" dy="0">+ __construct()</tspan><tspan x="1549" dy="14.65">+ getLangKey()</tspan><tspan x="1549" dy="14.65">+ getDefaultLanguage()</tspan><tspan x="1549" dy="14.65">+ getTextDirection()</tspan><tspan x="1549" dy="14.65">+ getContentLanguage()</tspan><tspan x="1549" dy="14.65">+ txtlng()</tspan><tspan x="1549" dy="14.65">+ txt()</tspan><tspan x="1549" dy="14.65">+ exists()</tspan><tspan x="1549" dy="14.65">+ loadLanguageModule()</tspan><tspan x="1549" dy="14.65">+ getInstalledLanguages()</tspan><tspan x="1549" dy="14.65">and 7 more...</tspan><tspan x="1549" dy="14.65">+ _getInstalledLanguages()</tspan><tspan x="1549" dy="14.65">+ _lookupEntry()</tspan><tspan x="1549" dy="14.65">+ lookupId()</tspan><tspan x="1549" dy="14.65">+ getFallbackInstance()</tspan><tspan x="1549" dy="14.65">+ getGlobalInstance()</tspan><tspan x="1549" dy="14.65"># logUsage()</tspan><tspan x="1549" dy="14.65"># isUsageLogEnabled()</tspan></text></g>

<g id="node-ilComponentRepository" class="n"><rect x="2788" y="1056" width="230" height="251.8"/><line x1="2788" y1="1080" x2="3018" y2="1080"/><line x1="2788" y1="1107" x2="3018" y2="1107"/><text class="c" x="2903" y="1073">ilComponentRepository</text>
<text x="2798" y="1122.5"><tspan x="2798" dy="0">+ hasComponent()</tspan><tspan x="2798" dy="14.65">+ hasComponentId()</tspan><tspan x="2798" dy="14.65">+ getComponents()</tspan><tspan x="2798" dy="14.65">+ getComponentById()</tspan><tspan x="2798" dy="14.65">+ getComponentByTypeAndName()</tspan><tspan x="2798" dy="14.65">+ hasPluginSlotId()</tspan><tspan x="2798" dy="14.65">+ getPluginSlots()</tspan><tspan x="2798" dy="14.65">+ getPluginSlotById()</tspan><tspan x="2798" dy="14.65">+ hasPluginId()</tspan><tspan x="2798" dy="14.65">+ getPlugins()</tspan><tspan x="2798" dy="14.65">+ getPluginById()</tspan><tspan x="2798" dy="14.65">+ getPluginByName()</tspan><tspan x="2798" dy="14.65">+ hasActivatedPlugin()</tspan></text></g>

<g id="node-ilComponentFactory" class="n"><rect x="3272" y="1137" width="173" height="90.65"/><line x1="3272" y1="1161" x2="3445" y2="1161"/><line x1="3272" y1="1188" x2="3445" y2="1188"/><text class="c" x="3358.5" y="1154">ilComponentFactory</text>
<text x="3282" y="1203.5"><tspan x="3282" dy="0">+ getPlugin()</tspan><tspan x="3282" dy="14.65">+ getActivePluginsInSlot()</tspan></text></g>

<g id="node-ilDBInterface" class="n"><rect x="4282" y="388" width="235" height="251.8"/><line x1="4282" y1="412" x2="4517" y2="412"/><line x1="4282" y1="439" x2="4517" y2="439"/><text class="c" x="4399.5" y="405">ilDBInterface</text>
<text x="4292" y="454.5"><tspan x="4292" dy="0">+ doesCollationSupportMB4Strings()</tspan><tspan x="4292" dy="14.65">+ sanitizeMB4StringIfNotSupported()</tspan><tspan x="4292" dy="14.65">+ initFromIniFile()</tspan><tspan x="4292" dy="14.65">+ connect()</tspan><tspan x="4292" dy="14.65">+ nextId()</tspan><tspan x="4292" dy="14.65">+ createTable()</tspan><tspan x="4292" dy="14.65">+ addPrimaryKey()</tspan><tspan x="4292" dy="14.65">+ createSequence()</tspan><tspan x="4292" dy="14.65">+ getSequenceName()</tspan><tspan x="4292" dy="14.65">+ tableExists()</tspan><tspan x="4292" dy="14.65">and 74 more...</tspan><tspan x="4292" dy="14.65">+ getReservedWords()</tspan><tspan x="4292" dy="14.65">+ isReservedWord()</tspan></text></g>

<g id="node-ilLogger" class="n"><rect x="3970" y="1070" width="110" height="222.5"/><line x1="3970" y1="1094" x2="4080" y2="1094"/><line x1="3970" y1="1121" x2="4080" y2="1121"/><text class="c" x="4025" y="1087">ilLogger</text>
<text x="3980" y="1136.5"><tspan x="3980" dy="0">+ __construct()</tspan><tspan x="3980" dy="14.65">+ isHandling()</tspan><tspan x="3980" dy="14.65">+ log()</tspan><tspan x="3980" dy="14.65">+ dump()</tspan><tspan x="3980" dy="14.65">+ debug()</tspan><tspan x="3980" dy="14.65">+ info()</tspan><tspan x="3980" dy="14.65">+ notice()</tspan><tspan x="3980" dy="14.65">+ warning()</tspan><tspan x="3980" dy="14.65">+ error()</tspan><tspan x="3980" dy="14.65">+ critical()</tspan><tspan x="3980" dy="14.65">and 7 more...</tspan></text></g>

<g id="node-ilObjectDefinition" class="n"><rect x="2785" y="1709" width="218" height="369"/><line x1="2785" y1="1733" x2="3003" y2="1733"/><line x1="2785" y1="1760" x2="3003" y2="1760"/><text class="c" x="2894" y="1726">ilObjectDefinition</text>
<text x="2795" y="1775.5"><tspan x="2795" dy="0">+ __construct()</tspan><tspan x="2795" dy="14.65">+ readDefinitionData()</tspan><tspan x="2795" dy="14.65">+ getClassName()</tspan><tspan x="2795" dy="14.65">+ getLocation()</tspan><tspan x="2795" dy="14.65">+ getGroup()</tspan><tspan x="2795" dy="14.65">+ getGroupOfObj()</tspan><tspan x="2795" dy="14.65">+ hasCheckbox()</tspan><tspan x="2795" dy="14.65">+ getTranslationType()</tspan><tspan x="2795" dy="14.65">+ stopInheritance()</tspan><tspan x="2795" dy="14.65">+ getDevMode()</tspan><tspan x="2795" dy="14.65">and 38 more...</tspan><tspan x="2795" dy="14.65">+ getRepositoryObjectTypes</tspan><tspan x="2795" dy="14.65">ForComponent()</tspan><tspan x="2795" dy="14.65">+ getComponentForType()</tspan><tspan x="2795" dy="14.65">+ getGroupedRepositoryObject</tspan><tspan x="2795" dy="14.65">Types()</tspan><tspan x="2795" dy="14.65"># readDefinitionDataFromCache()</tspan><tspan x="2795" dy="14.65"># readDefinitionDataFromDB()</tspan><tspan x="2795" dy="14.65"># readPluginData()</tspan><tspan x="2795" dy="14.65"># parsePluginData()</tspan><tspan x="2795" dy="14.65"># getGroupedPluginObjectTypes()</tspan></text></g>

<g id="node-ilAppEventHandler" class="n"><rect x="3255" y="1841" width="130" height="105.3"/><line x1="3255" y1="1865" x2="3385" y2="1865"/><line x1="3255" y1="1892" x2="3385" y2="1892"/><text class="c" x="3320" y="1858">ilAppEventHandler</text>
<text x="3265" y="1907.5"><tspan x="3265" dy="0">+ __construct()</tspan><tspan x="3265" dy="14.65">+ raise()</tspan><tspan x="3265" dy="14.65"># initListeners()</tspan></text></g>

<g id="node-ilRbacReview" class="n"><rect x="3646" y="1672" width="218" height="442.25"/><line x1="3646" y1="1696" x2="3864" y2="1696"/><line x1="3646" y1="1723" x2="3864" y2="1723"/><text class="c" x="3755" y="1689">ilRbacReview</text>
<text x="3656" y="1738.5"><tspan x="3656" dy="0">+ __construct()</tspan><tspan x="3656" dy="14.65">+ roleExists()</tspan><tspan x="3656" dy="14.65">+ getParentRoleIds()</tspan><tspan x="3656" dy="14.65">+ getRoleListByObject()</tspan><tspan x="3656" dy="14.65">+ getAssignableRoles()</tspan><tspan x="3656" dy="14.65">+ getAssignableRolesInSubtree()</tspan><tspan x="3656" dy="14.65">+ getAssignableChildRoles()</tspan><tspan x="3656" dy="14.65">+ getNumberOfAssignedUsers()</tspan><tspan x="3656" dy="14.65">+ assignedUsers()</tspan><tspan x="3656" dy="14.65">+ isAssigned()</tspan><tspan x="3656" dy="14.65">and 43 more...</tspan><tspan x="3656" dy="14.65">+ _getOperationIdsByName()</tspan><tspan x="3656" dy="14.65">+ _getOperationIdByName()</tspan><tspan x="3656" dy="14.65">+ lookupCreateOperationIds()</tspan><tspan x="3656" dy="14.65">+ _getOperationList()</tspan><tspan x="3656" dy="14.65">+ _groupOperationsByClass()</tspan><tspan x="3656" dy="14.65">+ _getCustomRBACOperationId()</tspan><tspan x="3656" dy="14.65">+ _isRBACOperation()</tspan><tspan x="3656" dy="14.65"># __getParentRoles()</tspan><tspan x="3656" dy="14.65"># __setTemplateFilter()</tspan><tspan x="3656" dy="14.65"># __setRoleType()</tspan><tspan x="3656" dy="14.65"># __setProtectedStatus()</tspan><tspan x="3656" dy="14.65">- getAssignableRolesGenerator()</tspan><tspan x="3656" dy="14.65">- setRoleTypeAndProtection()</tspan><tspan x="3656" dy="14.65">- buildRoleType()</tspan><tspan x="3656" dy="14.65">- buildProtectionByStringValue()</tspan></text></g>

<g id="node-ilTreeImplementation" class="n"><rect x="4041" y="1782" width="180" height="222.5"/><line x1="4041" y1="1806" x2="4221" y2="1806"/><line x1="4041" y1="1833" x2="4221" y2="1833"/><text class="c" x="4131" y="1799">ilTreeImplementation</text>
<text x="4051" y="1848.5"><tspan x="4051" dy="0">+ getSubTreeIds()</tspan><tspan x="4051" dy="14.65">+ getSubTreeQuery()</tspan><tspan x="4051" dy="14.65">+ getTrashSubTreeQuery()</tspan><tspan x="4051" dy="14.65">+ getRelation()</tspan><tspan x="4051" dy="14.65">+ getPathIds()</tspan><tspan x="4051" dy="14.65">+ insertNode()</tspan><tspan x="4051" dy="14.65">+ deleteTree()</tspan><tspan x="4051" dy="14.65">+ moveToTrash()</tspan><tspan x="4051" dy="14.65">+ moveTree()</tspan><tspan x="4051" dy="14.65">+ getSubtreeInfo()</tspan><tspan x="4051" dy="14.65">+ validateParentRelations()</tspan></text></g>

<g id="node-ilTree" class="n"><rect x="3798" y="2260" width="196" height="308.4"/><line x1="3798" y1="2284" x2="3994" y2="2284"/><line x1="3798" y1="2309" x2="3994" y2="2309"/><text class="c" x="3896" y="2277">ilTree</text>
<text x="3808" y="2299.5"># DEFAULT_GAP</text>
<text x="3808" y="2324.5"><tspan x="3808" dy="0">+ __construct()</tspan><tspan x="3808" dy="14.65">+ initTreeImplementation()</tspan><tspan x="3808" dy="14.65">+ getTreeImplementation()</tspan><tspan x="3808" dy="14.65">+ useCache()</tspan><tspan x="3808" dy="14.65">+ isCacheUsed()</tspan><tspan x="3808" dy="14.65">+ getDepthCache()</tspan><tspan x="3808" dy="14.65">+ getParentCache()</tspan><tspan x="3808" dy="14.65">+ initLangCode()</tspan><tspan x="3808" dy="14.65">+ getTreeTable()</tspan><tspan x="3808" dy="14.65">+ getObjectDataTable()</tspan><tspan x="3808" dy="14.65">and 69 more...</tspan><tspan x="3808" dy="14.65">+ lookupTreesForNode()</tspan><tspan x="3808" dy="14.65">+ _removeEntry()</tspan><tspan x="3808" dy="14.65"># getLangCode()</tspan><tspan x="3808" dy="14.65"># fetchTranslationFromObject</tspan><tspan x="3808" dy="14.65">DataCache()</tspan><tspan x="3808" dy="14.65">- __renumber()</tspan></text></g>

<g id="node-ilRbacAdmin" class="n"><rect x="4090" y="2288" width="189" height="251.8"/><line x1="4090" y1="2312" x2="4279" y2="2312"/><line x1="4090" y1="2339" x2="4279" y2="2339"/><text class="c" x="4184.5" y="2305">ilRbacAdmin</text>
<text x="4100" y="2354.5"><tspan x="4100" dy="0">+ __construct()</tspan><tspan x="4100" dy="14.65">+ setBlockedStatus()</tspan><tspan x="4100" dy="14.65">+ removeUser()</tspan><tspan x="4100" dy="14.65">+ deleteRole()</tspan><tspan x="4100" dy="14.65">+ deleteTemplate()</tspan><tspan x="4100" dy="14.65">+ deleteLocalRole()</tspan><tspan x="4100" dy="14.65">+ assignUserLimited()</tspan><tspan x="4100" dy="14.65">+ assignUser()</tspan><tspan x="4100" dy="14.65">+ deassignUser()</tspan><tspan x="4100" dy="14.65">+ grantPermission()</tspan><tspan x="4100" dy="14.65">and 18 more...</tspan><tspan x="4100" dy="14.65"># applyMovedObjectDidactic</tspan><tspan x="4100" dy="14.65">Templates()</tspan></text></g>

<g id="node-ilObject" class="n"><rect x="2951" y="2642" width="227" height="618.05"/><line x1="2951" y1="2666" x2="3178" y2="2666"/><line x1="2951" y1="2693" x2="3178" y2="2693"/><text class="c" x="3064.5" y="2659">ilObject</text>
<text x="2961" y="2708.5"><tspan x="2961" dy="0">+ __construct()</tspan><tspan x="2961" dy="14.65">+ withReferences()</tspan><tspan x="2961" dy="14.65">+ processAutoRating()</tspan><tspan x="2961" dy="14.65">+ read()</tspan><tspan x="2961" dy="14.65">+ getId()</tspan><tspan x="2961" dy="14.65">+ setId()</tspan><tspan x="2961" dy="14.65">+ setRefId()</tspan><tspan x="2961" dy="14.65">+ getRefId()</tspan><tspan x="2961" dy="14.65">+ getType()</tspan><tspan x="2961" dy="14.65">+ setType()</tspan><tspan x="2961" dy="14.65">and 39 more...</tspan><tspan x="2961" dy="14.65">+ _lookupObjIdByImportId()</tspan><tspan x="2961" dy="14.65">+ _lookupImportId()</tspan><tspan x="2961" dy="14.65">+ _lookupOwnerName()</tspan><tspan x="2961" dy="14.65">+ _getIdForImportId()</tspan><tspan x="2961" dy="14.65">+ _getAllReferences()</tspan><tspan x="2961" dy="14.65">+ _lookupTitle()</tspan><tspan x="2961" dy="14.65">+ lookupOfflineStatus()</tspan><tspan x="2961" dy="14.65">+ _lookupOwner()</tspan><tspan x="2961" dy="14.65">+ _getIdsForTitle()</tspan><tspan x="2961" dy="14.65">+ _lookupDescription()</tspan><tspan x="2961" dy="14.65">and 26 more...</tspan><tspan x="2961" dy="14.65"># doMDUpdateListener()</tspan><tspan x="2961" dy="14.65"># beforeMDUpdateListener()</tspan><tspan x="2961" dy="14.65"># doCreateMetaData()</tspan><tspan x="2961" dy="14.65"># beforeCreateMetaData()</tspan><tspan x="2961" dy="14.65"># doUpdateMetaData()</tspan><tspan x="2961" dy="14.65"># beforeUpdateMetaData()</tspan><tspan x="2961" dy="14.65"># doDeleteMetaData()</tspan><tspan x="2961" dy="14.65"># beforeDeleteMetaData()</tspan><tspan x="2961" dy="14.65"># handleAutoRating()</tspan><tspan x="2961" dy="14.65"># hasAutoRating()</tspan><tspan x="2961" dy="14.65">- appendCopyInfoToTranslations()</tspan><tspan x="2961" dy="14.65">- getCallbackForTitlesPerLanguage</tspan><tspan x="2961" dy="14.65">Transformation()</tspan><tspan x="2961" dy="14.65">- appendNumberOfCopiesToTitle()</tspan><tspan x="2961" dy="14.65">- isTitleUnique()</tspan><tspan x="2961" dy="14.65">- buildTitleWithoutCopySuffix()</tspan></text></g>

<g id="node-ilObjUser" class="n"><rect x="2920" y="3325" width="201" height="747.9"/><line x1="2920" y1="3349" x2="3121" y2="3349"/><line x1="2920" y1="3667" x2="3121" y2="3667"/><text class="c" x="3020.5" y="3342">ilObjUser</text>
<text x="2930" y="3364.5"><tspan x="2930" dy="0">+ $login</tspan><tspan x="2930" dy="14.65">+ $gender</tspan><tspan x="2930" dy="14.65">+ $utitle</tspan><tspan x="2930" dy="14.65">+ $firstname</tspan><tspan x="2930" dy="14.65">+ $lastname</tspan><tspan x="2930" dy="14.65">+ $fullname</tspan><tspan x="2930" dy="14.65">+ $department</tspan><tspan x="2930" dy="14.65">+ $street</tspan><tspan x="2930" dy="14.65">+ $city</tspan><tspan x="2930" dy="14.65">+ $country</tspan><tspan x="2930" dy="14.65">and 12 more...</tspan><tspan x="2930" dy="14.65"># $time_limit_message</tspan><tspan x="2930" dy="14.65"># $last_login</tspan><tspan x="2930" dy="14.65"># $passwd</tspan><tspan x="2930" dy="14.65"># $password_encoding_type</tspan><tspan x="2930" dy="14.65"># $password_salt</tspan><tspan x="2930" dy="14.65"># $birthday</tspan><tspan x="2930" dy="14.65"># $second_email</tspan><tspan x="2930" dy="14.65"># $inactivation_date</tspan><tspan x="2930" dy="14.65"># $org_units</tspan><tspan x="2930" dy="14.65"># $last_profile_prompt</tspan></text>
<text x="2930" y="3682.5"><tspan x="2930" dy="0">+ __construct()</tspan><tspan x="2930" dy="14.65">+ read()</tspan><tspan x="2930" dy="14.65">+ getPasswordEncodingType()</tspan><tspan x="2930" dy="14.65">+ setPasswordEncodingType()</tspan><tspan x="2930" dy="14.65">+ getPasswordSalt()</tspan><tspan x="2930" dy="14.65">+ setPasswordSalt()</tspan><tspan x="2930" dy="14.65">+ assignData()</tspan><tspan x="2930" dy="14.65">+ saveAsNew()</tspan><tspan x="2930" dy="14.65">+ update()</tspan><tspan x="2930" dy="14.65">+ writeAccepted()</tspan><tspan x="2930" dy="14.65">and 168 more...</tspan><tspan x="2930" dy="14.65">+ _lookupFullname()</tspan><tspan x="2930" dy="14.65">+ _lookupEmail()</tspan><tspan x="2930" dy="14.65">+ _lookupGender()</tspan><tspan x="2930" dy="14.65">+ _lookupClientIP()</tspan><tspan x="2930" dy="14.65">+ _lookupName()</tspan><tspan x="2930" dy="14.65">+ _lookupFields()</tspan><tspan x="2930" dy="14.65">+ _lookupLogin()</tspan><tspan x="2930" dy="14.65">+ _lookupExternalAccount()</tspan><tspan x="2930" dy="14.65">+ _lookupId()</tspan><tspan x="2930" dy="14.65">+ _lookupLastLogin()</tspan><tspan x="2930" dy="14.65">and 63 more...</tspan><tspan x="2930" dy="14.65"># buildTextFromArray()</tspan><tspan x="2930" dy="14.65"># readMultiTextFields()</tspan><tspan x="2930" dy="14.65"># deleteMultiTextFields()</tspan><tspan x="2930" dy="14.65">- _lookup()</tspan><tspan x="2930" dy="14.65">- getLoginFromAuth()</tspan></text></g>

<g id="node-SurveyQuestion" class="n"><rect x="3722" y="4139" width="157" height="383.65"/><line x1="3722" y1="4163" x2="3879" y2="4163"/><line x1="3722" y1="4190" x2="3879" y2="4190"/><text class="c" x="3800.5" y="4156">SurveyQuestion</text>
<text x="3732" y="4205.5"><tspan x="3732" dy="0">+ __construct()</tspan><tspan x="3732" dy="14.65">+ setComplete()</tspan><tspan x="3732" dy="14.65">+ isComplete()</tspan><tspan x="3732" dy="14.65">+ questionTitleExists()</tspan><tspan x="3732" dy="14.65">+ setTitle()</tspan><tspan x="3732" dy="14.65">+ setObligatory()</tspan><tspan x="3732" dy="14.65">+ setOrientation()</tspan><tspan x="3732" dy="14.65">+ setId()</tspan><tspan x="3732" dy="14.65">+ setSurveyId()</tspan><tspan x="3732" dy="14.65">+ setDescription()</tspan><tspan x="3732" dy="14.65">and 67 more...</tspan><tspan x="3732" dy="14.65">+ _isComplete()</tspan><tspan x="3732" dy="14.65">+ _getQuestionType()</tspan><tspan x="3732" dy="14.65">+ _getTitle()</tspan><tspan x="3732" dy="14.65">+ _getOriginalId()</tspan><tspan x="3732" dy="14.65">+ _questionExists()</tspan><tspan x="3732" dy="14.65">+ _resolveInternalLink()</tspan><tspan x="3732" dy="14.65">+ _resolveIntLinks()</tspan><tspan x="3732" dy="14.65">+ _getInternalLinkHref()</tspan><tspan x="3732" dy="14.65">+ _isWriteable()</tspan><tspan x="3732" dy="14.65">+ _includeClass()</tspan><tspan x="3732" dy="14.65">and 8 more...</tspan></text></g>

<g id="node-SurveyQuestionEvaluation" class="n"><rect x="4909" y="4587" width="215" height="339.7"/><line x1="4909" y1="4611" x2="5124" y2="4611"/><line x1="4909" y1="4638" x2="5124" y2="4638"/><text class="c" x="5016.5" y="4604">SurveyQuestionEvaluation</text>
<text x="4919" y="4653.5"><tspan x="4919" dy="0">+ __construct()</tspan><tspan x="4919" dy="14.65">+ getResults()</tspan><tspan x="4919" dy="14.65">+ getSumScores()</tspan><tspan x="4919" dy="14.65">+ parseUserSpecificResults()</tspan><tspan x="4919" dy="14.65">+ getGrid()</tspan><tspan x="4919" dy="14.65">+ getTextAnswers()</tspan><tspan x="4919" dy="14.65">+ getChart()</tspan><tspan x="4919" dy="14.65">+ getSkippedValue()</tspan><tspan x="4919" dy="14.65">+ exportResults()</tspan><tspan x="4919" dy="14.65">+ getExportGrid()</tspan><tspan x="4919" dy="14.65">+ getUserSpecificVariableTitles()</tspan><tspan x="4919" dy="14.65">+ addUserSpecificResults()</tspan><tspan x="4919" dy="14.65"># isSumScoreValid()</tspan><tspan x="4919" dy="14.65"># supportsSumScore()</tspan><tspan x="4919" dy="14.65"># parseResults()</tspan><tspan x="4919" dy="14.65"># getChartColors()</tspan><tspan x="4919" dy="14.65"># getSurveyId()</tspan><tspan x="4919" dy="14.65"># getNrOfParticipants()</tspan><tspan x="4919" dy="14.65"># getAnswerData()</tspan></text></g>

<g id="node-SurveyMetricQuestionEvaluation" class="n hl"><rect x="4909" y="4978" width="215" height="134.6"/><line x1="4909" y1="5002" x2="5124" y2="5002"/><line x1="4909" y1="5029" x2="5124" y2="5029"/><text class="c" x="5016.5" y="4995">SurveyMetricQuestionEvaluation</text>
<text x="4919" y="5044.5"><tspan x="4919" dy="0">+ getGrid()</tspan><tspan x="4919" dy="14.65">+ getChart()</tspan><tspan x="4919" dy="14.65">+ getExportGrid()</tspan><tspan x="4919" dy="14.65">+ addUserSpecificResults()</tspan><tspan x="4919" dy="14.65"># parseResults()</tspan></text></g>
</svg>
